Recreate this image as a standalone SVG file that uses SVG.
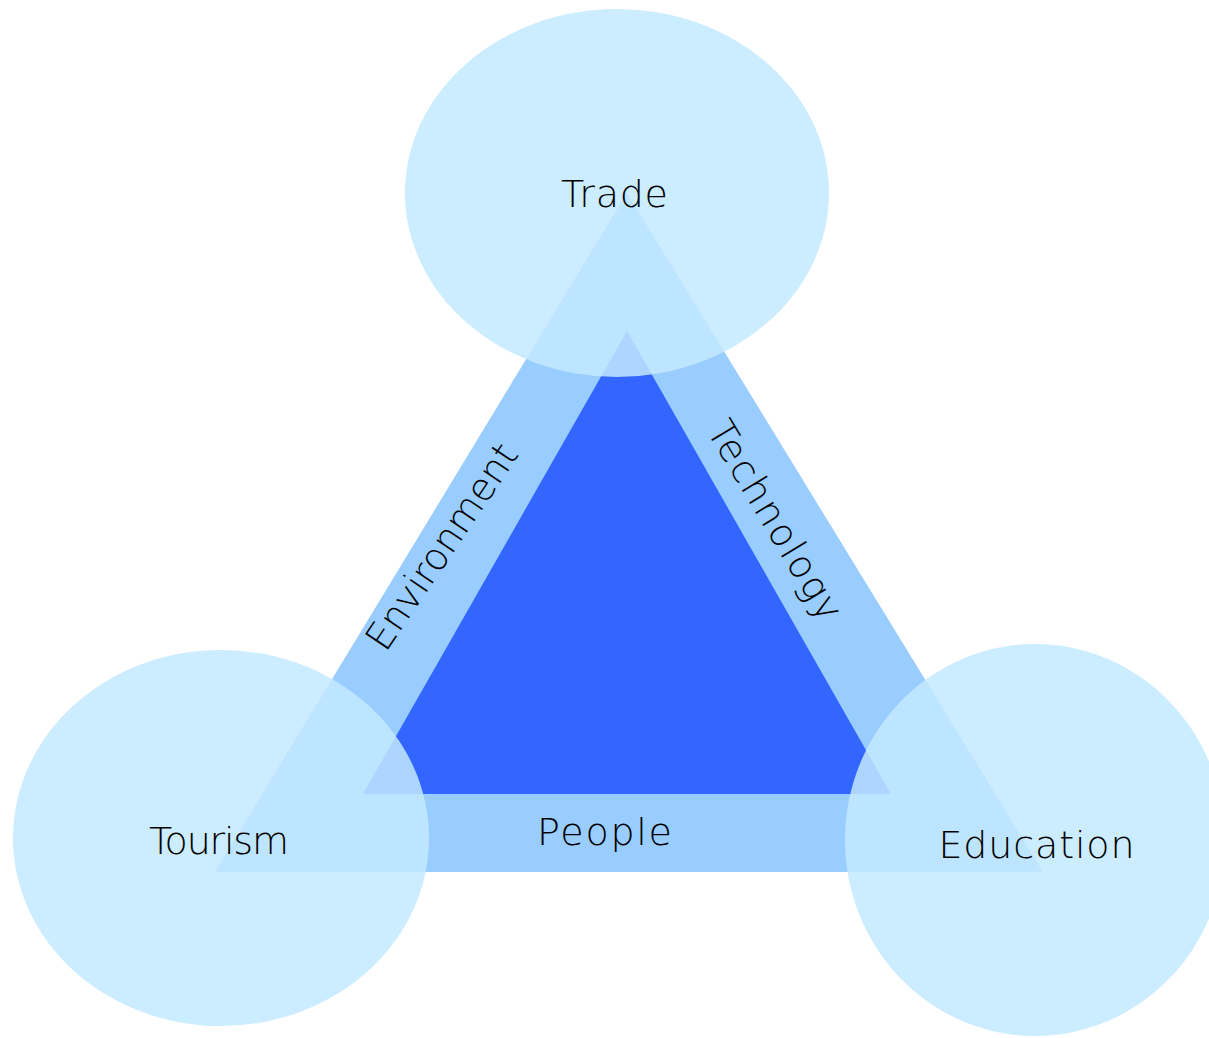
<svg xmlns="http://www.w3.org/2000/svg" width="1209" height="1038" viewBox="0 0 1209 1038">
  <style>
    .lbl { font-family: "DejaVu Sans", "Liberation Sans", sans-serif; font-weight: 200; font-size: 38px; fill: #000; text-anchor: middle; }
    .node { fill: #C3E9FF; fill-opacity: 0.85; }
  </style>
  <rect width="1209" height="1038" fill="#ffffff"/>
  <g id="connectors">
    <polygon id="outer-triangle" points="627,193 215,872 1043,872" fill="#99CCFF"/>
    <polygon id="inner-triangle" points="627,331 363,794 891,794" fill="#3366FF"/>
    <text class="lbl" transform="translate(441,546) rotate(-56)" x="0" y="14" textLength="240">Environment</text>
    <text class="lbl" transform="translate(776,520) rotate(59)" x="0" y="14" textLength="226">Technology</text>
    <text class="lbl" x="604.5" y="845" textLength="135">People</text>
  </g>
  <g id="node-trade">
    <ellipse class="node" cx="617" cy="193" rx="212" ry="184"/>
    <text class="lbl" x="614.5" y="207" textLength="107">Trade</text>
  </g>
  <g id="node-tourism">
    <ellipse class="node" cx="221" cy="838" rx="208" ry="188"/>
    <text class="lbl" x="219" y="854" textLength="140">Tourism</text>
  </g>
  <g id="node-education">
    <ellipse class="node" cx="1035" cy="840" rx="190" ry="196"/>
    <text class="lbl" x="1036.5" y="858" textLength="196">Education</text>
  </g>
</svg>
